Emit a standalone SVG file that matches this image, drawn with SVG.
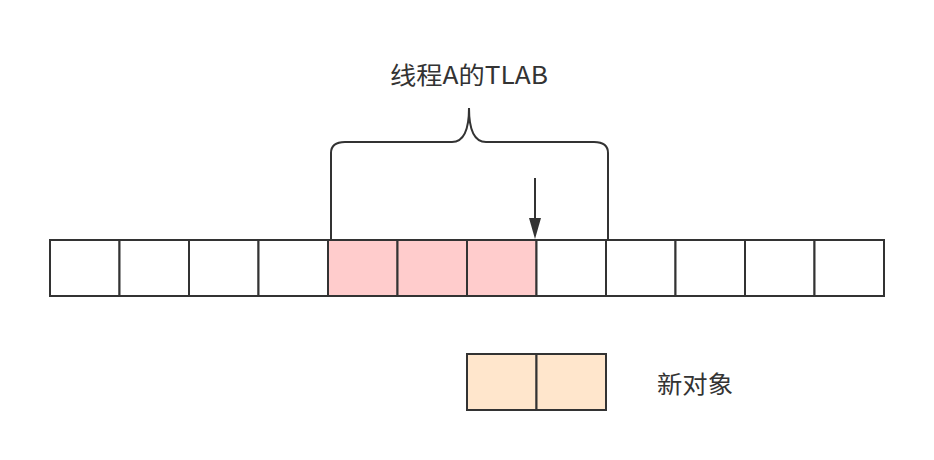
<svg xmlns="http://www.w3.org/2000/svg" width="934" height="460" viewBox="0 0 934 460">
<style>
.cell{fill:#ffffff;stroke:#333333;stroke-width:2}
.tlab{fill:#ffcccc}
.obj{fill:#ffe6cc}
.line{fill:none;stroke:#333333;stroke-width:2}
.lbl{font-family:"Noto Sans CJK SC","Liberation Sans",sans-serif;font-size:24px;fill:#333333}
</style>
<rect width="934" height="460" fill="#ffffff"/>
<g id="heap">
<rect class="cell" x="50" y="240" width="69.5" height="56"/>
<rect class="cell" x="119.5" y="240" width="69.5" height="56"/>
<rect class="cell" x="189" y="240" width="69.5" height="56"/>
<rect class="cell" x="258.5" y="240" width="69.5" height="56"/>
<rect class="cell tlab" x="328" y="240" width="69.5" height="56"/>
<rect class="cell tlab" x="397.5" y="240" width="69.5" height="56"/>
<rect class="cell tlab" x="467" y="240" width="69.5" height="56"/>
<rect class="cell" x="536.5" y="240" width="69.5" height="56"/>
<rect class="cell" x="606" y="240" width="69.5" height="56"/>
<rect class="cell" x="675.5" y="240" width="69.5" height="56"/>
<rect class="cell" x="745" y="240" width="69.5" height="56"/>
<rect class="cell" x="814.5" y="240" width="69.5" height="56"/>
</g>
<g id="brace">
<path class="line" d="M331,240 L331,153 Q331,142 345,142 L452,142 Q469,142 469,108 Q469,142 486,142 L594,142 Q608,142 608,153 L608,240"/>
</g>
<g id="label-tlab">
<text class="lbl" x="390" y="84" textLength="158" lengthAdjust="spacingAndGlyphs">线程A的TLAB</text>
</g>
<g id="new-object">
<rect class="cell obj" x="467" y="354" width="69.5" height="56"/>
<rect class="cell obj" x="536.5" y="354" width="69.5" height="56"/>
</g>
<g id="label-obj">
<text class="lbl" x="657" y="393" textLength="76" lengthAdjust="spacingAndGlyphs">新对象</text>
</g>
<g id="connectors">
<line x1="535" y1="178" x2="535" y2="226" stroke="#333333" stroke-width="2"/>
<path d="M529,218 L541,218 L535,239 Z" fill="#333333"/>
</g>
</svg>
